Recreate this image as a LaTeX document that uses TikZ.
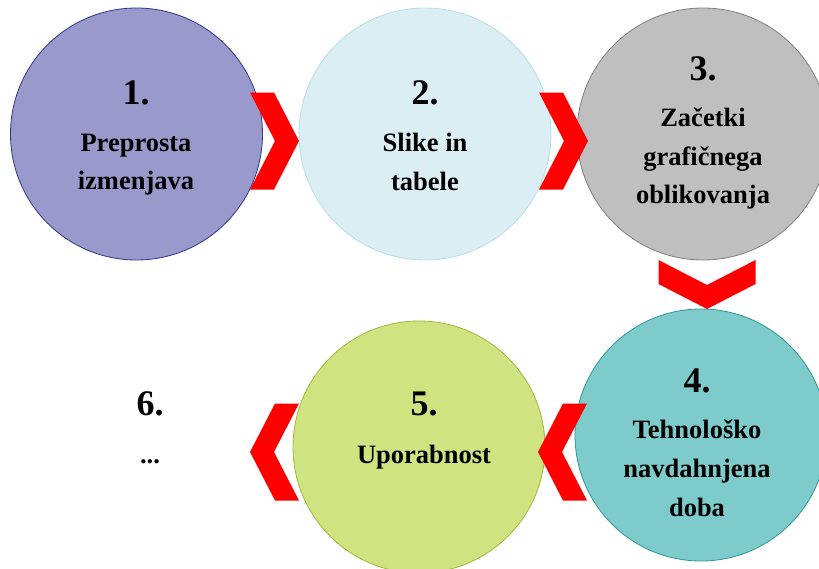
\documentclass[tikz,border=0pt]{standalone}
\usepackage{fontspec}
\setmainfont{Liberation Serif}
\begin{document}
\begin{tikzpicture}[x=1pt,y=-1pt,
  stage/.style={circle,inner sep=0,minimum size=252pt,line width=0.8pt},
  num/.style={anchor=base,inner sep=0,font=\fontsize{36}{40}\selectfont\bfseries},
  ln/.style={anchor=base,inner sep=0,font=\fontsize{26.5}{30}\selectfont\bfseries},
  chevron/.pic={\fill[red] (-49,-48.5) -- (-25,-48.5) -- (0,0) -- (-25,48.5) -- (-49,48.5) -- (-24,0) -- cycle;}
]
\definecolor{fillA}{RGB}{153,153,204}\definecolor{lineA}{RGB}{52,52,140}
\definecolor{fillB}{RGB}{218,238,243}\definecolor{lineB}{RGB}{183,221,232}
\definecolor{fillC}{RGB}{191,191,191}\definecolor{lineC}{RGB}{127,127,127}
\definecolor{fillD}{RGB}{126,203,203}\definecolor{lineD}{RGB}{45,150,150}
\definecolor{fillE}{RGB}{207,227,128}\definecolor{lineE}{RGB}{155,187,60}
\useasboundingbox (0,0) rectangle (819,568);
\clip (0,0) rectangle (819,568);

% arrow into stage 6, tucked behind stage 5
\pic[rotate=180] at (250,452) {chevron};

% stages
\node[stage,fill=fillA,draw=lineA] (c1) at (136.5,134) {};
\node[stage,fill=fillB,draw=lineB] (c2) at (425,134) {};
\node[stage,fill=fillC,draw=lineC] (c3) at (703,134) {};
\node[stage,fill=fillD,draw=lineD] (c4) at (701,435) {};
\node[stage,fill=fillE,draw=lineE] (c5) at (419,447) {};

% arrows between stages
\pic at (299,141) {chevron};
\pic at (588,141) {chevron};
\pic[rotate=-90] at (707,309) {chevron};
\pic[rotate=180] at (538,452) {chevron};

% labels
\node[num] (n1) at (136,104) {1.};
\node[ln] (t1a) at (136,151) {Preprosta};
\node[ln] (t1b) at (136,189) {izmenjava};

\node[num] (n2) at (425,104) {2.};
\node[ln] (t2a) at (425,151) {Slike in};
\node[ln] (t2b) at (425,190) {tabele};

\node[num] (n3) at (703,80) {3.};
\node[ln] (t3a) at (703,126) {Začetki};
\node[ln] (t3b) at (703,165) {grafičnega};
\node[ln] (t3c) at (703,203) {oblikovanja};

\node[num] (n4) at (697,392) {4.};
\node[ln] (t4a) at (697,438) {Tehnološko};
\node[ln] (t4b) at (697,477) {navdahnjena};
\node[ln] (t4c) at (697,516) {doba};

\node[num] (n5) at (424,415) {5.};
\node[ln] (t5a) at (424,463) {Uporabnost};

\node[num] (n6) at (150,415) {6.};
\node[ln] (t6a) at (150,463) {...};
\end{tikzpicture}
\end{document}
